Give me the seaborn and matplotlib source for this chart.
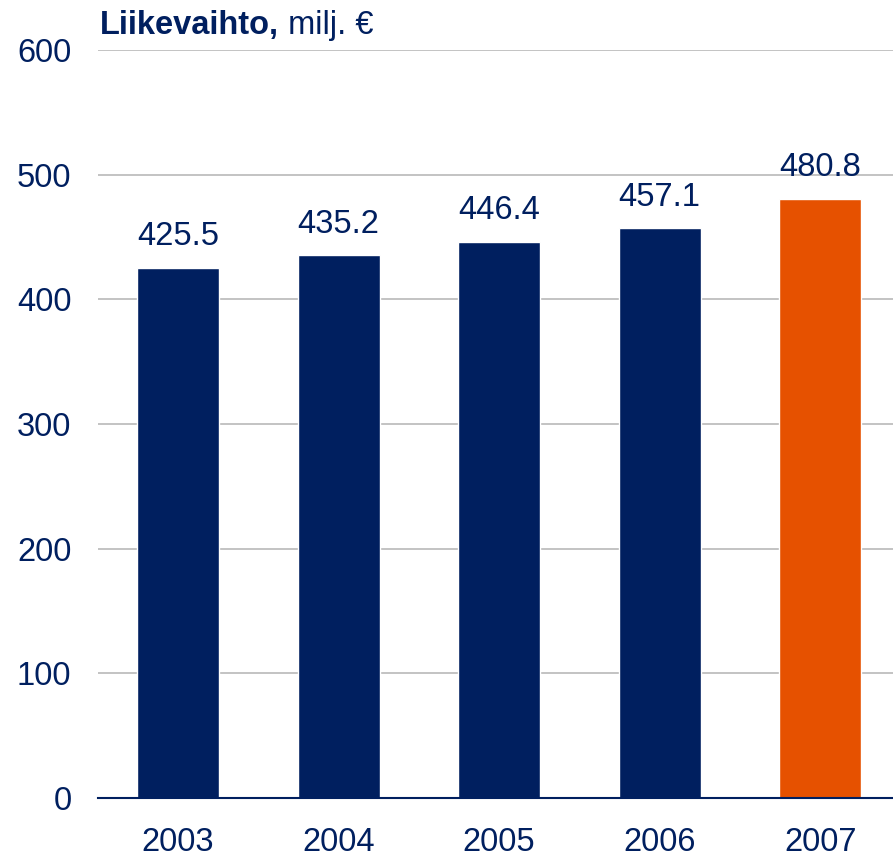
import matplotlib
matplotlib.use("Agg")
import matplotlib.pyplot as plt
import seaborn as sns
import pandas as pd

years = ["2003", "2004", "2005", "2006", "2007"]
values = [425.5, 435.2, 446.4, 457.1, 480.8]
value_labels = ["425.5", "435.2", "446.4", "457.1", "480.8"]
yticks = [0, 100, 200, 300, 400, 500, 600]

NAVY = "#001F5F"
ORANGE = "#E65100"
FS = 23.5

sns.set_theme(style="white")
plt.rcParams["font.family"] = ["Liberation Sans", "DejaVu Sans"]

df = pd.DataFrame({"year": years, "value": values})
colors = [NAVY] * 4 + [ORANGE]

fig = plt.figure(figsize=(8.93, 8.58), dpi=100)
ax = fig.add_axes([0.1095, 0.0699, 0.899, 0.8718])

sns.barplot(data=df, x="year", y="value", hue="year", palette=colors,
            legend=False, width=0.51, saturation=1, ax=ax, zorder=2)

ax.set_ylim(0, 600)
ax.set_xlim(-0.5, 4.5)
ax.set_yticks(yticks)
ax.set_yticklabels([str(t) for t in yticks])
ax.yaxis.grid(True, color="#BEBEBE", linewidth=1.3, zorder=0)
ax.set_axisbelow(True)
for s in ["left", "right", "top"]:
    ax.spines[s].set_visible(False)
ax.spines["bottom"].set_color(NAVY)
ax.spines["bottom"].set_linewidth(1.5)
ax.spines["bottom"].set_zorder(3)
ax.tick_params(axis="both", length=0, labelsize=FS, colors=NAVY)
ax.tick_params(axis="x", pad=21)
ax.tick_params(axis="y", pad=19)
ax.set_xlabel("")
ax.set_ylabel("")

for i, (v, lab) in enumerate(zip(values, value_labels)):
    ax.annotate(lab, xy=(i, v), xytext=(0, 11), textcoords="offset points",
                ha="center", va="bottom", fontsize=FS, color=NAVY, zorder=4)

ax.text(0.003, 1.012, "Liikevaihto,", transform=ax.transAxes, fontsize=FS,
        fontweight="bold", color=NAVY, ha="left", va="bottom")
ax.annotate(" milj. €", xy=(1, 0), xycoords=ax.texts[-1], fontsize=FS,
            color=NAVY, ha="left", va="bottom")

fig.savefig("out.png", dpi=100)
